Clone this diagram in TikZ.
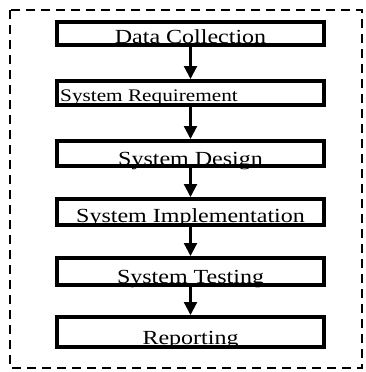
\documentclass[tikz,border=0pt]{standalone}
\usepackage{fontspec}
\setmainfont{Liberation Serif}
\newfontfamily\widefont[FakeStretch=1.2]{Liberation Serif}
\usetikzlibrary{arrows.meta}
\newcommand\bigtxt{\widefont\fontsize{20pt}{22pt}\selectfont}
\newcommand\smalltxt{\widefont\fontsize{17.7pt}{20pt}\selectfont}
\tikzset{
  stepbox/.style={rectangle, fill=white, minimum width=267pt, inner sep=0pt, outer sep=0pt},
  border/.style={line width=4pt},
  ctext/.style={anchor=base, inner sep=0pt, font=\bigtxt},
  ltext/.style={anchor=base west, inner sep=0pt, font=\smalltxt},
  flow/.style={line width=2.2pt, -{Triangle[width=13pt,length=13pt]}, shorten <=2pt, shorten >=2pt},
  frame/.style={line width=2pt, dash pattern=on 9pt off 6pt}
}
\begin{document}
\begin{tikzpicture}[x=1pt,y=-1pt]
\useasboundingbox (0,0) rectangle (365,372);
\draw[frame] (10,10) rectangle (362,368);
\node[stepbox, minimum height=23pt] (n1) at (190.5,33.5) {};
\node[stepbox, minimum height=24pt] (n2) at (190.5,93) {};
\node[stepbox, minimum height=25pt] (n3) at (190.5,153.5) {};
\node[stepbox, minimum height=26pt] (n4) at (190.5,212) {};
\node[stepbox, minimum height=27pt] (n5) at (190.5,271.5) {};
\node[stepbox, minimum height=30pt] (n6) at (190.5,332) {};
\node[ctext] (t1) at ([yshift=2pt]n1.south) {Data Collection};
\node[ltext] (t2) at ([xshift=3pt,yshift=4pt]n2.south west) {System Requirement};
\node[ctext] (t3) at ([yshift=1pt]n3.south) {System Design};
\node[ctext] (t4) at ([yshift=3pt]n4.south) {System Implementation};
\node[ctext] (t5) at ([yshift=2pt]n5.south) {System Testing};
\node[ctext] (t6) at ([yshift=3pt]n6.south) {Reporting};
\foreach \n in {n1,n2,n3,n4,n5,n6}
  \draw[border] (\n.south west) rectangle (\n.north east);
\draw[flow] (n1) -- (n2);
\draw[flow] (n2) -- (n3);
\draw[flow] (n3) -- (n4);
\draw[flow] (n4) -- (n5);
\draw[flow] (n5) -- (n6);
\end{tikzpicture}
\end{document}
